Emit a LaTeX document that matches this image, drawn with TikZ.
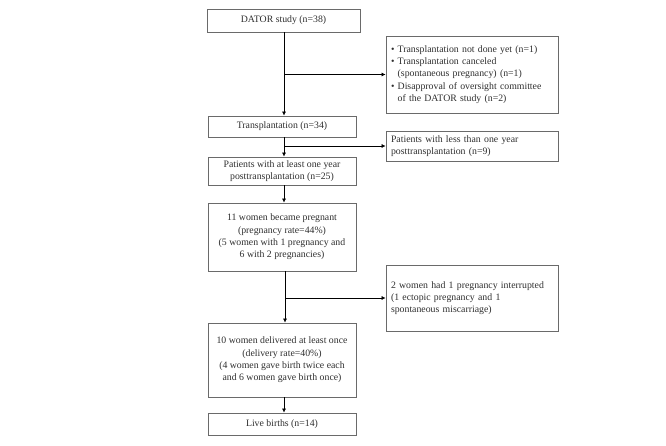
\documentclass[tikz,border=0pt]{standalone}
\usepackage{fontspec}
\setmainfont{Liberation Serif}
\usetikzlibrary{positioning,arrows.meta}
\definecolor{boxline}{HTML}{6A6A6A}
\definecolor{boxtext}{HTML}{2E2E2E}
\newcommand{\itm}{\textbullet\ }
\newcommand{\ind}{\phantom{\textbullet\ }}

\begin{document}
\begin{tikzpicture}[
			x=1pt,y=-1pt,
			box/.style={
				draw=boxline,
				line width=0.8pt,
				minimum width=148pt,
				align=center,
				inner sep=2pt,
				text=boxtext,
				font=\fontsize{9.8}{12.3}\selectfont
			},
			side/.style={box,minimum width=172pt,align=left,text width=162pt},
			arrow/.style={-{Latex[length=4pt,width=4pt]},line width=0.6pt}
			]
			\useasboundingbox (0,0) rectangle (666,446);
			
			\node[box,minimum width=153pt,minimum height=23pt] (dator) at (283.5,20.5) {DATOR study (n=38)};
			\node[box,minimum height=21pt] (transp) at (282,126.5) {Transplantation (n=34)};
			\node[box,minimum height=28pt] (oneyear) at (282,171) {Patients with at least one year\\ posttransplantation (n=25)};
			\node[box,minimum height=68pt] (pregnant) at (282,237) {11 women became pregnant\\ (pregnancy rate=44\%)\\ (5 women with 1 pregnancy and\\ 6 with 2 pregnancies)};
			\node[box,minimum height=74pt] (delivered) at (282,360) {10 women delivered at least once\\ (delivery rate=40\%)\\ (4 women gave birth twice each\\ and 6 women gave birth once)};
			\node[box,minimum height=22pt] (live) at (282,424) {Live births (n=14)};
			
			\node[side,minimum height=77pt] (excl) at (472,74.5) {\itm Transplantation not done yet (n=1)\\ \itm Transplantation canceled\\ \ind(spontaneous pregnancy) (n=1)\\ \itm Disapproval of oversight committee\\ \ind of the DATOR study (n=2)};
			\node[side,minimum height=30pt] (lessyear) at (472,146) {Patients with less than one year\\ posttransplantation (n=9)};
			\node[side,minimum height=66pt] (interr) at (472,298) {2 women had 1 pregnancy interrupted\\ (1 ectopic pregnancy and 1\\ spontaneous miscarriage)};
			
			\draw[arrow] (dator.south -| 284,0) -- (transp.north -| 284,0);
			\draw[arrow] (transp.south -| 284,0) -- (oneyear.north -| 284,0);
			\draw[arrow] (oneyear.south -| 284,0) -- (pregnant.north -| 284,0);
			\draw[arrow] (pregnant.south -| 285,0) -- (delivered.north -| 285,0);
			\draw[arrow] (delivered.south -| 284,0) -- (live.north -| 284,0);
			
			\draw[arrow] (excl.west -| 284,0) -- (excl.west);
			\draw[arrow] (lessyear.west -| 284,0) -- (lessyear.west);
			\draw[arrow] (interr.west -| 285,0) -- (interr.west);
			
		\end{tikzpicture}
\end{document}
